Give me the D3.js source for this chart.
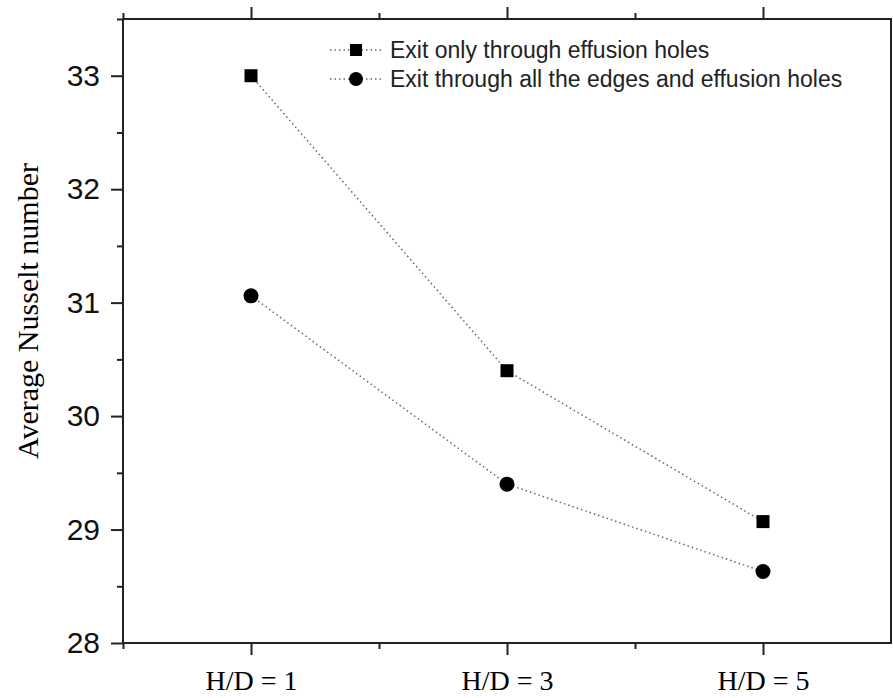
<!DOCTYPE html>
<html>
<head>
<title>Average Nusselt number</title>
<script src="https://d3js.org/d3.v7.min.js"></script>
<style>
body, html { margin: 0; padding: 0; background: white; }
svg { display: block; }
</style>
</head>
<body>
<svg id="chart" width="893" height="698"></svg>
<script>

// data
const categories = ["H/D = 1", "H/D = 3", "H/D = 5"];
const xPos = [1, 3, 5];
const edgesClosed = [33.0, 30.40, 29.07];   // exit only through effusion holes
const edgesOpen = [31.06, 29.40, 28.63];    // exit through all the edges and effusion holes
const seriesNames = ["Exit only through effusion holes", "Exit through all the edges and effusion holes"];
const yTicks = [28, 29, 30, 31, 32, 33];

const svg = d3.select("#chart");
const plotLeft = 123, plotRight = 891, plotTop = 19, plotBottom = 643;
const axisColor = "#222";

const x = d3.scaleLinear().domain([0, 6]).range([plotLeft, plotRight]);
const y = d3.scaleLinear().domain([28, 33.5]).range([plotBottom, plotTop]);

function styleAxis(g) {
  g.select(".domain").remove();
  g.selectAll("line").attr("stroke", axisColor).attr("stroke-width", 2);
}

// minor ticks
svg.append("g").attr("transform", "translate(0," + plotBottom + ")")
  .call(d3.axisBottom(x).tickValues([0, 2, 4]).tickSize(6).tickFormat(""))
  .call(styleAxis);
svg.append("g").attr("transform", "translate(0," + plotTop + ")")
  .call(d3.axisTop(x).tickValues([0, 2, 4]).tickSize(6).tickFormat(""))
  .call(styleAxis);
svg.append("g").attr("transform", "translate(" + plotLeft + ",0)")
  .call(d3.axisLeft(y).tickValues(d3.range(28.5, 33.6, 1)).tickSize(6).tickFormat(""))
  .call(styleAxis);

// major ticks
const xAxis = svg.append("g").attr("transform", "translate(0," + plotBottom + ")")
  .call(d3.axisBottom(x).tickValues(xPos).tickSize(12).tickPadding(15)
    .tickFormat((d, i) => categories[i]))
  .call(styleAxis);
xAxis.selectAll("text")
  .attr("fill", "#000")
  .style("font-family", "'Liberation Serif', 'Times New Roman', serif")
  .style("font-size", "28px");

svg.append("g").attr("transform", "translate(0," + plotTop + ")")
  .call(d3.axisTop(x).tickValues(xPos).tickSize(12).tickFormat(""))
  .call(styleAxis);

const yAxis = svg.append("g").attr("transform", "translate(" + plotLeft + ",0)")
  .call(d3.axisLeft(y).tickValues(yTicks).tickSize(12).tickPadding(11).tickFormat(d3.format("d")))
  .call(styleAxis);
yAxis.selectAll("text")
  .attr("fill", "#111")
  .style("font-family", "'Liberation Sans', Arial, sans-serif")
  .style("font-size", "30px");

// frame
svg.append("rect")
  .attr("x", plotLeft).attr("y", plotTop)
  .attr("width", plotRight - plotLeft).attr("height", plotBottom - plotTop)
  .attr("fill", "none").attr("stroke", axisColor).attr("stroke-width", 2);

// y label
svg.append("text")
  .attr("transform", "translate(38,311) rotate(-90)")
  .attr("text-anchor", "middle")
  .style("font-family", "'Liberation Serif', 'Times New Roman', serif")
  .style("font-size", "30px")
  .text("Average Nusselt number");

// lines
const line = d3.line().x((d, i) => x(xPos[i])).y(d => y(d));
[edgesClosed, edgesOpen].forEach(s => {
  svg.append("path")
    .attr("d", line(s))
    .attr("fill", "none")
    .attr("stroke", "#666")
    .attr("stroke-width", 1.5)
    .attr("stroke-dasharray", "1.5,3");
});

// markers
svg.append("g").selectAll("rect").data(edgesClosed).join("rect")
  .attr("x", (d, i) => x(xPos[i]) - 6.5)
  .attr("y", d => y(d) - 6.5)
  .attr("width", 13).attr("height", 13)
  .attr("fill", "#000");

svg.append("g").selectAll("circle").data(edgesOpen).join("circle")
  .attr("cx", (d, i) => x(xPos[i]))
  .attr("cy", d => y(d))
  .attr("r", 7.5)
  .attr("fill", "#000");

// legend
const legend = svg.append("g").attr("transform", "translate(330,50)");
seriesNames.forEach((name, i) => {
  const g = legend.append("g").attr("transform", "translate(0," + (i * 29) + ")");
  g.append("line").attr("x1", 0).attr("x2", 52).attr("y1", 0).attr("y2", 0)
    .attr("stroke", "#666").attr("stroke-width", 1.5).attr("stroke-dasharray", "1.5,3");
  if (i === 0) {
    g.append("rect").attr("x", 20).attr("y", -6).attr("width", 12).attr("height", 12).attr("fill", "#000");
  } else {
    g.append("circle").attr("cx", 26).attr("cy", 0).attr("r", 7).attr("fill", "#000");
  }
  g.append("text").attr("x", 60).attr("y", 8)
    .style("font-family", "'Liberation Sans', Arial, sans-serif")
    .style("font-size", "23px")
    .attr("fill", "#222")
    .text(name);
});

</script>
</body>
</html>
